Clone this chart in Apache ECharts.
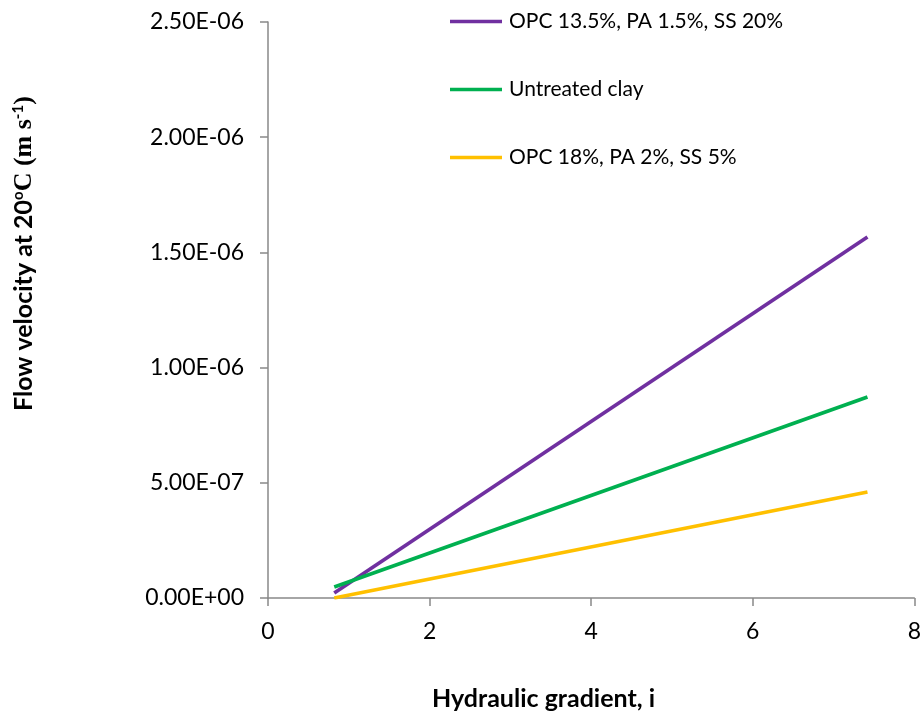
<!DOCTYPE html>
<html><head><meta charset="utf-8">
<script src="https://cdn.jsdelivr.net/npm/echarts@6/dist/echarts.min.js"></script>
<style>html,body{margin:0;padding:0;background:#fff}#c{width:924px;height:717px}</style>
</head><body><div id="c"></div>
<script>
const seriesNames = ['OPC 13.5%, PA 1.5%, SS 20%', 'Untreated clay', 'OPC 18%, PA 2%, SS 5%'];
const gradientX = [0.82, 7.42];
const opc135 = [2.2e-8, 1.567e-6];
const untreated = [4.8e-8, 8.72e-7];
const opc18 = [0.0, 4.6e-7];
const xTicks = [0, 2, 4, 6, 8];
const yTicks = [0, 5e-7, 1e-6, 1.5e-6, 2e-6, 2.5e-6];
const colors = ['#7030A0', '#00B050', '#FFC000'];

function fmtE(v) {
  if (v === 0) return '0.00E+00';
  let s = v.toExponential(2).toUpperCase();
  const m = s.match(/^(.*)E([+-])(\d+)$/);
  return m[1] + 'E' + m[2] + (m[3].length < 2 ? '0' + m[3] : m[3]);
}
const pairs = a => gradientX.map((x, i) => [x, a[i]]);
const data = [opc135, untreated, opc18];
const font = 'Lato, "Liberation Sans", sans-serif';
const chart = echarts.init(document.getElementById('c'));
chart.setOption({
  animation: false,
  textStyle: {fontFamily: font},
  grid: {left: 268, right: 8, top: 22, bottom: 119, containLabel: false},
  legend: {
    orient: 'vertical', left: 445, top: 6, itemGap: 47, itemWidth: 52, itemHeight: 3.5,
    icon: 'rect',
    textStyle: {fontSize: 21, color: '#000', fontFamily: font, padding: [0, 0, 0, 2]},
    data: seriesNames
  },
  xAxis: {
    type: 'value', min: 0, max: 8, interval: 2,
    axisLine: {lineStyle: {color: '#898989', width: 1.5}},
    axisTick: {show: true, length: 8, lineStyle: {color: '#898989', width: 1.5}},
    splitLine: {show: false},
    axisLabel: {fontSize: 23, color: '#000', margin: 22, fontFamily: font,
      formatter: v => String(v)}
  },
  yAxis: {
    type: 'value', min: 0, max: 2.5e-6, interval: 5e-7,
    axisLine: {show: true, lineStyle: {color: '#898989', width: 1.5}},
    axisTick: {show: true, length: 8, lineStyle: {color: '#898989', width: 1.5}},
    splitLine: {show: false},
    axisLabel: {fontSize: 23, color: '#000', margin: 24, formatter: v => fmtE(v), fontFamily: font}
  },
  graphic: [
    {type: 'text', left: 432, top: 686, style: {text: 'Hydraulic gradient, i', font: 'bold 25px ' + font, fill: '#000'}},
    {type: 'text', x: 11, y: 411, rotation: Math.PI / 2, style: {
      text: '{b|Flow velocity at 20}{s|o}{t|C (m s}{s|-1}{t|)}',
      rich: {
        b: {font: 'bold 25px ' + font, color: '#000'},
        t: {font: 'bold 26px "Liberation Serif", serif', color: '#000'},
        s: {font: 'bold 15px ' + font, color: '#000', verticalAlign: 'top', padding: [0, 0, 10, 0]}
      }
    }}
  ],
  series: seriesNames.map((n, i) => ({
    name: n, type: 'line', data: pairs(data[i]), symbol: 'none',
    lineStyle: {color: colors[i], width: 3.7}, itemStyle: {color: colors[i]}
  }))
});
</script></body></html>
